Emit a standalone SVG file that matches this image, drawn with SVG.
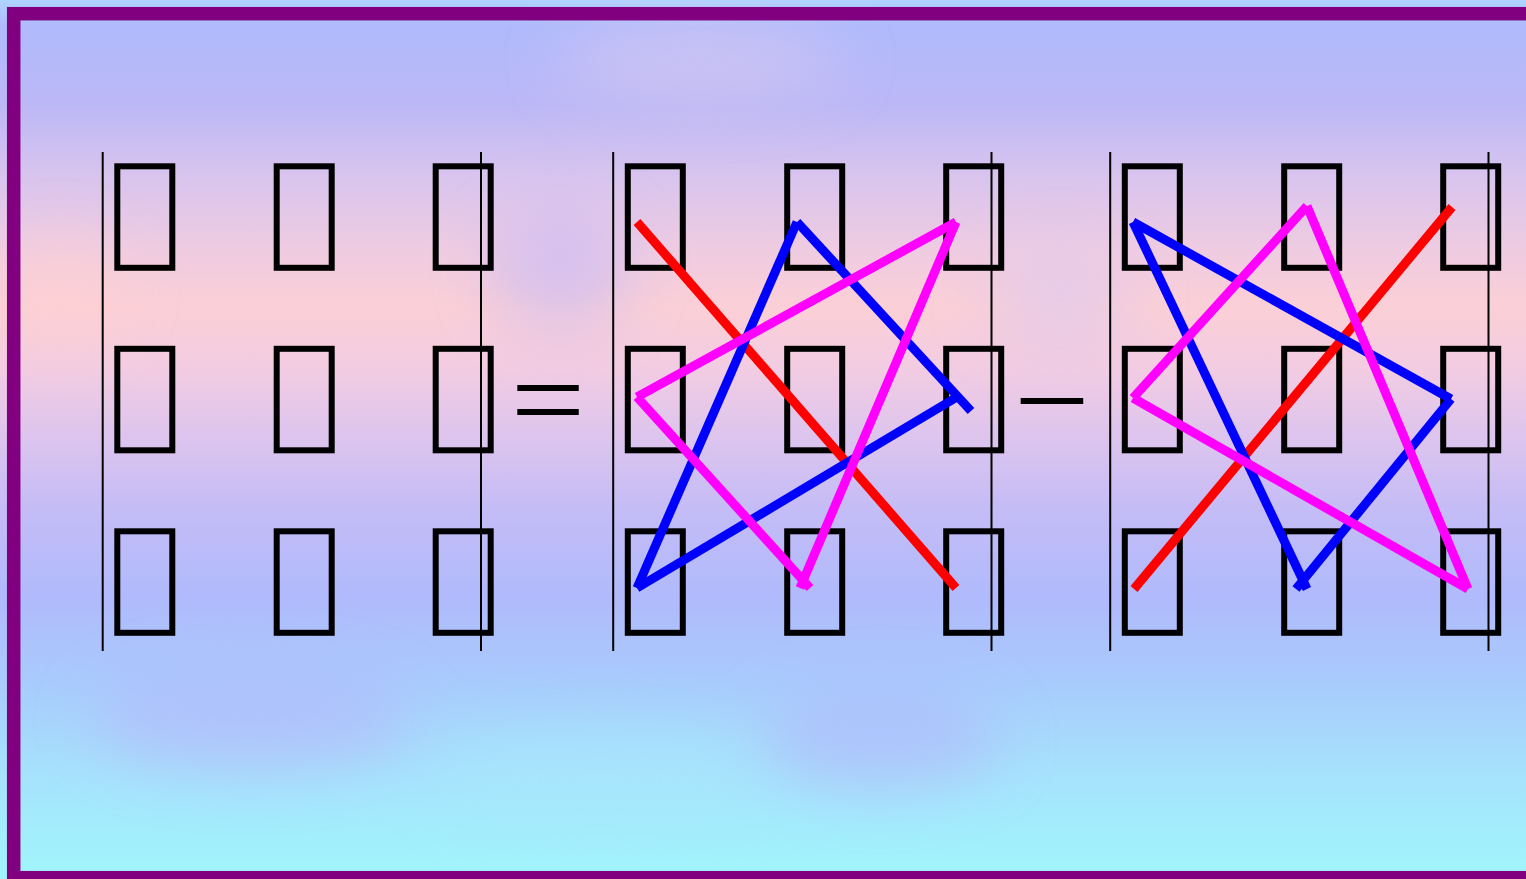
<svg xmlns="http://www.w3.org/2000/svg" width="1526" height="879" viewBox="0 0 1526 879">
<defs>
<linearGradient id="bg" x1="0" y1="0" x2="0" y2="1">
<stop offset="0" stop-color="#aed4ff"/>
<stop offset="0.03" stop-color="#b0bafc"/>
<stop offset="0.12" stop-color="#bcb8f6"/>
<stop offset="0.2" stop-color="#d8c4ee"/>
<stop offset="0.29" stop-color="#f0cce0"/>
<stop offset="0.35" stop-color="#fbcfd6"/>
<stop offset="0.42" stop-color="#f2cce2"/>
<stop offset="0.5" stop-color="#dcc4ee"/>
<stop offset="0.58" stop-color="#c4bcf6"/>
<stop offset="0.68" stop-color="#b0bafc"/>
<stop offset="0.78" stop-color="#a8ccfc"/>
<stop offset="0.88" stop-color="#a6e2fc"/>
<stop offset="1" stop-color="#a0f6fc"/>
</linearGradient>
<filter id="blur" x="-50%" y="-50%" width="200%" height="200%"><feGaussianBlur stdDeviation="30"/></filter>
<style>
.box{fill:none;stroke:#000;stroke-width:6}
.bar{stroke:#000;stroke-width:2}
.op{font-family:"Liberation Serif",serif;font-size:120px;fill:#000}
.r{stroke:#ff0000;stroke-width:9;fill:none}
.b{stroke:#0000ff;stroke-width:9;fill:none}
.m{stroke:#ff00ff;stroke-width:9;fill:none}
</style>
</defs>
<g id="background">
<rect x="0" y="0" width="1526" height="879" fill="url(#bg)"/>
<g filter="url(#blur)" opacity="0.55">
<ellipse cx="560" cy="270" rx="70" ry="60" fill="#c0b8fa"/>
<ellipse cx="1060" cy="300" rx="70" ry="50" fill="#d8c8f4"/>
<ellipse cx="700" cy="60" rx="140" ry="40" fill="#dccaf0"/>
<ellipse cx="60" cy="290" rx="60" ry="50" fill="#ffd0d0"/>
<ellipse cx="250" cy="720" rx="160" ry="50" fill="#b8b4fa"/>
<ellipse cx="880" cy="740" rx="120" ry="50" fill="#b4b4fa"/>
<ellipse cx="600" cy="780" rx="160" ry="50" fill="#a8e8fc"/>
</g>
</g>
<rect id="frame" x="13.7" y="13.7" width="1540" height="864" fill="none" stroke="#800080" stroke-width="13.5"/>

<g id="det1">
<line class="bar" x1="102.7" y1="152" x2="102.7" y2="651"/>
<line class="bar" x1="481" y1="152" x2="481" y2="651"/>
<rect class="box" x="117.3" y="166.3" width="55" height="101.5"/>
<rect class="box" x="276.7" y="166.3" width="55" height="101.5"/>
<rect class="box" x="435.7" y="166.3" width="55" height="101.5"/>
<rect class="box" x="117.3" y="348.8" width="55" height="101.5"/>
<rect class="box" x="276.7" y="348.8" width="55" height="101.5"/>
<rect class="box" x="435.7" y="348.8" width="55" height="101.5"/>
<rect class="box" x="117.3" y="531.3" width="55" height="101.5"/>
<rect class="box" x="276.7" y="531.3" width="55" height="101.5"/>
<rect class="box" x="435.7" y="531.3" width="55" height="101.5"/>
</g>

<text id="eq" class="op" transform="translate(510.7,440) scale(1.1,1)" x="0" y="0">=</text>

<g id="det2">
<line class="bar" x1="613.2" y1="152" x2="613.2" y2="651"/>
<line class="bar" x1="991.5" y1="152" x2="991.5" y2="651"/>
<rect class="box" x="627.8" y="166.3" width="55" height="101.5"/>
<rect class="box" x="787.2" y="166.3" width="55" height="101.5"/>
<rect class="box" x="946.2" y="166.3" width="55" height="101.5"/>
<rect class="box" x="627.8" y="348.8" width="55" height="101.5"/>
<rect class="box" x="787.2" y="348.8" width="55" height="101.5"/>
<rect class="box" x="946.2" y="348.8" width="55" height="101.5"/>
<rect class="box" x="627.8" y="531.3" width="55" height="101.5"/>
<rect class="box" x="787.2" y="531.3" width="55" height="101.5"/>
<rect class="box" x="946.2" y="531.3" width="55" height="101.5"/>
</g>

<text id="minus" class="op" transform="translate(1013.9,441) scale(1.12,1)" x="0" y="0">−</text>

<g id="det3">
<line class="bar" x1="1110.2" y1="152" x2="1110.2" y2="651"/>
<line class="bar" x1="1488.5" y1="152" x2="1488.5" y2="651"/>
<rect class="box" x="1124.8" y="166.3" width="55" height="101.5"/>
<rect class="box" x="1284.2" y="166.3" width="55" height="101.5"/>
<rect class="box" x="1443.2" y="166.3" width="55" height="101.5"/>
<rect class="box" x="1124.8" y="348.8" width="55" height="101.5"/>
<rect class="box" x="1284.2" y="348.8" width="55" height="101.5"/>
<rect class="box" x="1443.2" y="348.8" width="55" height="101.5"/>
<rect class="box" x="1124.8" y="531.3" width="55" height="101.5"/>
<rect class="box" x="1284.2" y="531.3" width="55" height="101.5"/>
<rect class="box" x="1443.2" y="531.3" width="55" height="101.5"/>
</g>

<g id="connectors">
<line class="r" x1="637" y1="222" x2="956" y2="588"/>
<line class="b" x1="637" y1="588" x2="797" y2="222"/>
<line class="b" x1="797" y1="222" x2="971" y2="411"/>
<line class="b" x1="637" y1="588" x2="957" y2="397"/>
<line class="m" x1="956" y1="222" x2="637" y2="397"/>
<line class="m" x1="637" y1="397" x2="810" y2="588"/>
<line class="m" x1="956" y1="222" x2="800" y2="588"/>

<line class="r" x1="1134" y1="589" x2="1452" y2="207"/>
<line class="b" x1="1133" y1="222" x2="1451" y2="399"/>
<line class="b" x1="1451" y1="399" x2="1296" y2="589"/>
<line class="b" x1="1133" y1="222" x2="1307" y2="589"/>
<line class="m" x1="1133" y1="398" x2="1307" y2="206"/>
<line class="m" x1="1307" y1="206" x2="1468" y2="589"/>
<line class="m" x1="1133" y1="398" x2="1468" y2="589"/>
</g>
</svg>
